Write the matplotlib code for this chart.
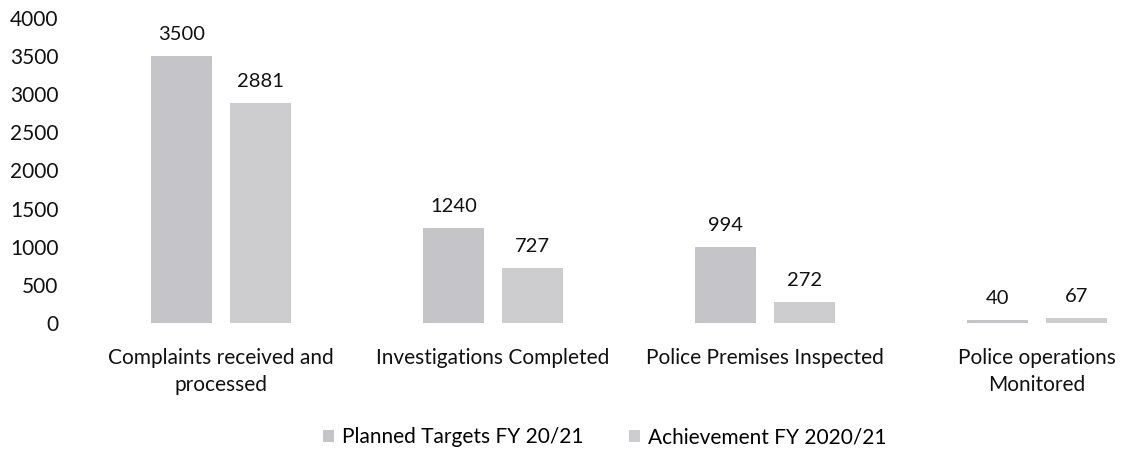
import numpy as np
import matplotlib.pyplot as plt

categories = ['Complaints received and\nprocessed', 'Investigations Completed',
              'Police Premises Inspected', 'Police operations\nMonitored']
planned = [3500, 1240, 994, 40]
achieved = [2881, 727, 272, 67]
series_names = ['Planned Targets FY 20/21', 'Achievement FY 2020/21']

plt.rcParams['font.family'] = ['Lato', 'DejaVu Sans']

fig = plt.figure(figsize=(11.26, 4.49), dpi=100)
# axes placed in pixel terms: left 75, right 1120, zero line at y=323, 4000 at y=18
ax = fig.add_axes([75 / 1126, (449 - 323) / 449, (1120 - 75) / 1126, 305 / 449])

x = np.arange(len(categories))
w = 0.224
off = 0.146
b1 = ax.bar(x - off, planned, w, color='#c5c5c9', label=series_names[0])
b2 = ax.bar(x + off, achieved, w, color='#cdcdd0', label=series_names[1])

for bars in (b1, b2):
    for r in bars:
        ax.text(r.get_x() + r.get_width() / 2, r.get_height() + 170,
                str(int(r.get_height())), ha='center', va='bottom', fontsize=14.5, color='#111111')

ax.set_xlim(-0.537, 3.305)
ax.set_ylim(0, 4000)
ax.set_yticks(range(0, 4001, 500))
ax.set_xticks(x)
ax.set_xticklabels(categories, fontsize=15, color='#111111', linespacing=1.45)
ax.tick_params(axis='y', labelsize=15, colors='#111111', length=0, pad=12)
ax.tick_params(axis='x', length=0, pad=18)
for s in ax.spines.values():
    s.set_visible(False)

fig.legend(loc='center', bbox_to_anchor=(605 / 1126, 1 - 437 / 449), ncol=2,
           frameon=False, fontsize=15, handlelength=0.5, handleheight=0.5,
           handletextpad=0.4, columnspacing=2.2)

fig.savefig('out.png', dpi=100)
